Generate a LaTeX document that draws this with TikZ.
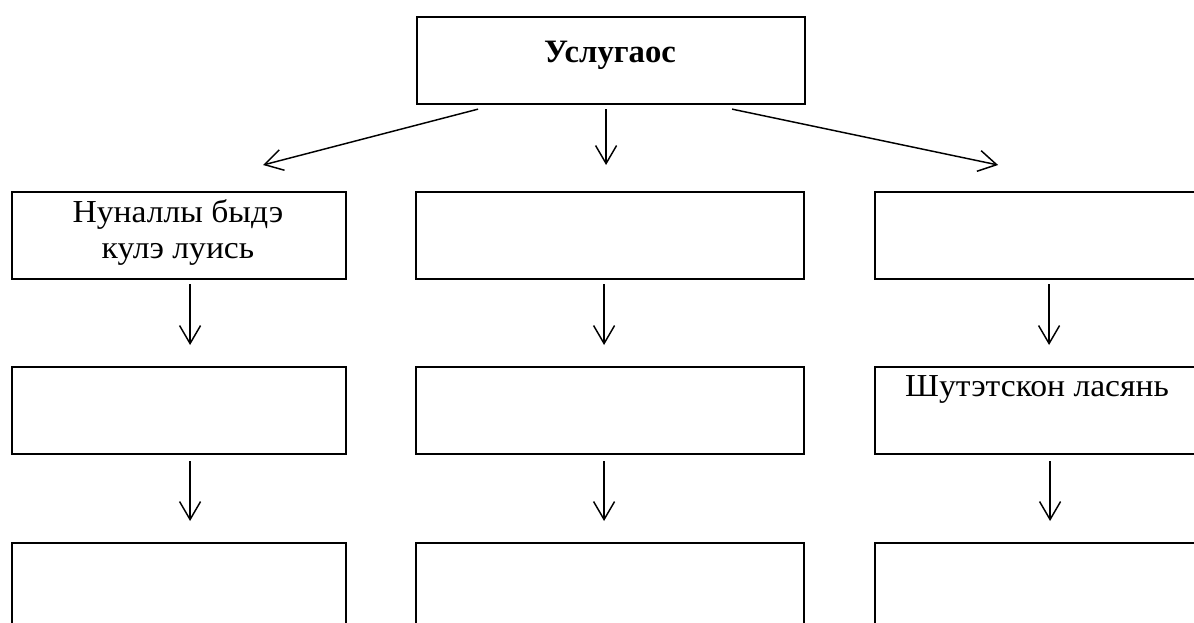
\documentclass[tikz,border=0pt]{standalone}
\usepackage{fontspec}
\setmainfont{Liberation Serif}
\newfontfamily\bodyfont[FakeStretch=1.05]{Liberation Serif}
\usetikzlibrary{arrows.meta,calc}
\newcommand\pu{0.75pt}
\begin{document}
\begin{tikzpicture}[x=0.75pt,y=-0.75pt,
  box/.style={draw=black,line width=1.6pt,inner sep=0pt,anchor=north west},
  txt/.style={inner sep=0pt,align=center,font=\bodyfont\fontsize{24}{27}\selectfont},
  arr/.style={draw=black,line width=1.1pt,-{Straight Barb[length=13.5pt,width=15.75pt]}}]
\useasboundingbox (0,0) rectangle (1194,623);
\clip (0,0) rectangle (1194,623);
% top box
\node[box,minimum width=388*\pu,minimum height=87*\pu] (T) at (416,16) {};
\node[inner sep=0pt,anchor=base,font=\bfseries\fontsize{24.5}{28}\selectfont] (Tt) at (610,63) {Услугаос};
% row 1
\node[box,minimum width=334*\pu,minimum height=87*\pu] (L1) at (11,191) {};
\node[box,minimum width=388*\pu,minimum height=87*\pu] (M1) at (415,191) {};
\node[box,minimum width=326*\pu,minimum height=87*\pu] (R1) at (874,191) {};
% row 2
\node[box,minimum width=334*\pu,minimum height=87*\pu] (L2) at (11,366) {};
\node[box,minimum width=388*\pu,minimum height=87*\pu] (M2) at (415,366) {};
\node[box,minimum width=326*\pu,minimum height=87*\pu] (R2) at (874,366) {};
% row 3
\node[box,minimum width=334*\pu,minimum height=87*\pu] (L3) at (11,542) {};
\node[box,minimum width=388*\pu,minimum height=87*\pu] (M3) at (415,542) {};
\node[box,minimum width=326*\pu,minimum height=87*\pu] (R3) at (874,542) {};
% texts
\node[txt,anchor=base] (L1t) at (178,259) {Нуналлы быдэ\\кулэ луись};
\node[txt,anchor=base] (R2t) at (1037,396) {Шутэтскон ласянь};
% arrows from top
\draw[arr] ([xshift=-133*\pu,yshift=-4*\pu]T.south) -- ([xshift=84*\pu,yshift=26*\pu]L1.north);
\draw[arr] ([xshift=-5*\pu,yshift=-4*\pu]T.south) -- ([xshift=-4*\pu,yshift=26*\pu]M1.north);
\draw[arr] ([xshift=121*\pu,yshift=-4*\pu]T.south) -- ([xshift=-40*\pu,yshift=26*\pu]R1.north);
% row1 -> row2
\draw[arr] ([xshift=11*\pu,yshift=-4*\pu]L1.south) -- ([xshift=11*\pu,yshift=21*\pu]L2.north);
\draw[arr] ([xshift=-6*\pu,yshift=-4*\pu]M1.south) -- ([xshift=-6*\pu,yshift=21*\pu]M2.north);
\draw[arr] ([xshift=11*\pu,yshift=-4*\pu]R1.south) -- ([xshift=11*\pu,yshift=21*\pu]R2.north);
% row2 -> row3
\draw[arr] ([xshift=11*\pu,yshift=-6*\pu]L2.south) -- ([xshift=11*\pu,yshift=21*\pu]L3.north);
\draw[arr] ([xshift=-6*\pu,yshift=-6*\pu]M2.south) -- ([xshift=-6*\pu,yshift=21*\pu]M3.north);
\draw[arr] ([xshift=12*\pu,yshift=-6*\pu]R2.south) -- ([xshift=12*\pu,yshift=21*\pu]R3.north);
\end{tikzpicture}
\end{document}
